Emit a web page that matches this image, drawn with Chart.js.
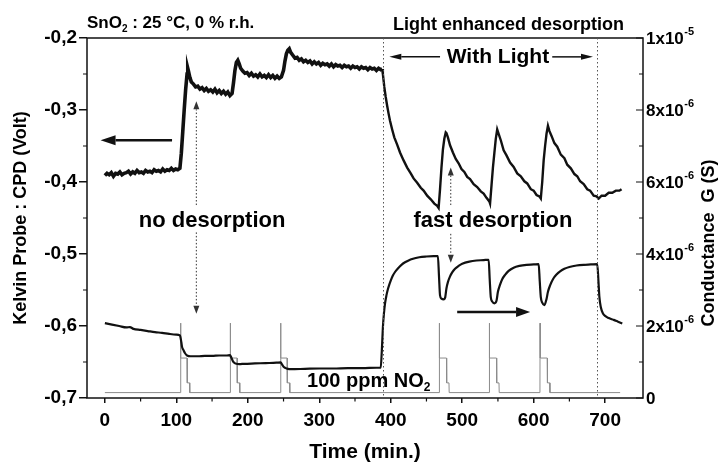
<!DOCTYPE html>
<html><head><meta charset="utf-8">
<script src="https://cdn.jsdelivr.net/npm/chart.js@4.4.1/dist/chart.umd.min.js"></script>
<style>html,body{margin:0;padding:0;background:#fff;}canvas{display:block;}</style>
</head><body>
<canvas id="c" width="720" height="465"></canvas>
<script>
const FONT = '"Liberation Sans", Arial, Helvetica, sans-serif';

// ---- axis ticks ----
const timeTicks = [0, 100, 200, 300, 400, 500, 600, 700];
const timeMinorTicks = [50, 150, 250, 350, 450, 550, 650];
const cpdTicks = [-0.7, -0.6, -0.5, -0.4, -0.3, -0.2];
const cpdTickLabels = ['-0,7', '-0,6', '-0,5', '-0,4', '-0,3', '-0,2'];
const cpdMinorTicks = [-0.65, -0.55, -0.45, -0.35, -0.25];
const condTicks = [0, 2e-6, 4e-6, 6e-6, 8e-6, 1e-5];
const condTickMantissa = ['0', '2x10', '4x10', '6x10', '8x10', '1x10'];
const condTickExponent = ['', '-6', '-6', '-6', '-6', '-5'];
const condMinorTicks = [1e-6, 3e-6, 5e-6, 7e-6, 9e-6];

// ---- Kelvin probe CPD (V), left axis ----
const cpdTime = [
  0,3,6,9,12,15,18,21,24,27,30,33,36,39,42,45,48,51,54,57,60,63,66,69,72,75,78,81,84,87,90,93,96,99,102,105,
  107,109,111,113,115,116,117,119,121,
  124,127,130,133,136,139,142,145,148,151,154,157,160,163,166,169,172,175,178,
  180,182,184,186,188,190,193,
  196,199,202,205,208,211,214,217,220,223,226,229,232,235,238,241,244,247,
  250,252,254,256,258,260,263,266,
  269,272,275,278,281,284,287,290,293,296,299,302,305,308,311,314,317,320,323,326,329,332,335,338,341,344,347,350,353,356,359,362,365,368,371,374,377,380,383,386,388,
  389,391,393,395,397,399,402,405,409,413,418,423,428,432,437,442,446,451,456,461,465,467,
  469,471,473,475,477,478,480,483,487,491,495,499,503,507,511,516,521,526,530,534,538,539,
  541,543,545,547,549,551,554,558,562,567,572,577,582,587,591,596,600,604,608,610,
  612,614,616,618,620,622,625,629,633,638,643,647,652,657,661,665,670,675,679,684,688,691,695,700,705,710,715,720,723
];
const cpdValue = [
  -0.391,-0.388,-0.390,-0.387,-0.392,-0.388,-0.389,-0.386,-0.390,-0.388,-0.387,-0.385,-0.389,-0.386,-0.388,-0.384,-0.387,-0.386,-0.388,-0.384,-0.386,-0.385,-0.387,-0.383,-0.385,-0.384,-0.386,-0.382,-0.385,-0.383,-0.384,-0.381,-0.384,-0.382,-0.383,-0.381,
  -0.360,-0.330,-0.300,-0.272,-0.250,-0.242,-0.246,-0.255,-0.261,
  -0.264,-0.268,-0.267,-0.271,-0.269,-0.273,-0.270,-0.274,-0.272,-0.275,-0.271,-0.276,-0.273,-0.277,-0.274,-0.278,-0.275,-0.280,-0.277,
  -0.262,-0.245,-0.234,-0.231,-0.236,-0.242,-0.246,
  -0.249,-0.248,-0.252,-0.249,-0.253,-0.251,-0.254,-0.250,-0.254,-0.252,-0.255,-0.251,-0.255,-0.252,-0.256,-0.253,-0.256,-0.254,
  -0.245,-0.232,-0.222,-0.217,-0.215,-0.220,-0.224,-0.228,
  -0.227,-0.231,-0.229,-0.233,-0.231,-0.234,-0.232,-0.236,-0.233,-0.236,-0.234,-0.238,-0.235,-0.237,-0.236,-0.239,-0.236,-0.240,-0.237,-0.239,-0.238,-0.241,-0.238,-0.240,-0.239,-0.242,-0.239,-0.241,-0.240,-0.243,-0.240,-0.242,-0.241,-0.244,-0.241,-0.243,-0.242,-0.245,-0.242,-0.244,-0.243,
  -0.250,-0.268,-0.282,-0.294,-0.305,-0.315,-0.327,-0.338,-0.348,-0.359,-0.370,-0.380,-0.388,-0.395,-0.401,-0.408,-0.412,-0.419,-0.424,-0.430,-0.433,-0.436,
  -0.410,-0.380,-0.355,-0.340,-0.331,-0.332,-0.338,-0.349,-0.359,-0.368,-0.374,-0.382,-0.386,-0.393,-0.396,-0.403,-0.407,-0.413,-0.416,-0.422,-0.427,-0.430,
  -0.405,-0.380,-0.360,-0.340,-0.327,-0.333,-0.342,-0.356,-0.363,-0.373,-0.379,-0.388,-0.392,-0.399,-0.402,-0.410,-0.412,-0.418,-0.420,-0.423,
  -0.400,-0.370,-0.350,-0.333,-0.322,-0.329,-0.336,-0.346,-0.351,-0.362,-0.367,-0.376,-0.381,-0.389,-0.392,-0.399,-0.403,-0.410,-0.412,-0.419,-0.420,-0.423,-0.419,-0.419,-0.415,-0.415,-0.412,-0.412,-0.410
];

// ---- Conductance G (S), right axis ----
const condTime = [
  0,10,20,30,35,40,50,60,70,80,90,100,105,107,108,110,112,115,120,130,140,150,160,170,175,
  177,179,181,184,188,195,210,225,240,246,248,250,253,256,260,280,300,320,340,360,380,386,
  387.5,389,390.5,392,394,396,398,400,403,406,410,415,420,425,430,440,450,460,466,
  467.5,469,471,474,476,478,480,483,486,490,495,500,510,520,530,537,
  538.5,540,542,545,548,550,553,556,560,565,572,580,590,600,607,
  608.5,610,612,615,618,620,623,627,632,637,643,650,660,670,680,689,
  690.5,692,694,697,700,705,712,718,724
];
const condValue = [
  2.08e-6,2.04e-6,2.00e-6,1.96e-6,1.97e-6,1.92e-6,1.89e-6,1.86e-6,1.83e-6,1.81e-6,1.78e-6,1.76e-6,1.74e-6,1.55e-6,1.42e-6,1.33e-6,1.25e-6,1.18e-6,1.16e-6,1.16e-6,1.17e-6,1.17e-6,1.18e-6,1.18e-6,1.19e-6,
  1.12e-6,1.03e-6,0.98e-6,0.95e-6,0.94e-6,0.95e-6,0.96e-6,0.97e-6,0.98e-6,0.99e-6,0.93e-6,0.87e-6,0.83e-6,0.81e-6,0.80e-6,0.81e-6,0.82e-6,0.82e-6,0.83e-6,0.83e-6,0.84e-6,0.84e-6,
  1.30e-6,1.95e-6,2.35e-6,2.62e-6,2.85e-6,3.02e-6,3.15e-6,3.26e-6,3.40e-6,3.50e-6,3.60e-6,3.70e-6,3.77e-6,3.82e-6,3.86e-6,3.91e-6,3.93e-6,3.94e-6,3.94e-6,
  3.40e-6,2.85e-6,2.76e-6,2.74e-6,2.78e-6,3.05e-6,3.22e-6,3.38e-6,3.49e-6,3.59e-6,3.67e-6,3.73e-6,3.79e-6,3.82e-6,3.83e-6,3.84e-6,
  3.30e-6,2.80e-6,2.68e-6,2.63e-6,2.70e-6,2.95e-6,3.15e-6,3.30e-6,3.42e-6,3.53e-6,3.62e-6,3.67e-6,3.70e-6,3.71e-6,3.72e-6,
  3.25e-6,2.80e-6,2.65e-6,2.58e-6,2.75e-6,2.95e-6,3.13e-6,3.30e-6,3.43e-6,3.52e-6,3.59e-6,3.64e-6,3.68e-6,3.70e-6,3.71e-6,3.72e-6,
  3.30e-6,2.80e-6,2.52e-6,2.35e-6,2.28e-6,2.22e-6,2.17e-6,2.12e-6,2.07e-6
];

// ---- 100 ppm NO2 gas pulses (drawn on right-axis scale) ----
const no2Time = [
  0,105.8,106,106.3,115,115.3,118.5,118.8,
  175.3,175.5,175.8,185,185.3,188.5,188.8,
  245.8,246,246.3,255,255.3,258.5,258.8,
  467.8,468,468.3,478,478.3,481.5,481.8,
  537.8,538,538.3,548,548.3,551.5,551.8,
  608.8,609,609.3,619,619.3,622.5,622.8,721
];
const no2Value = [
  0.15e-6,0.15e-6,2.08e-6,1.11e-6,1.11e-6,0.42e-6,0.42e-6,0.15e-6,
  0.15e-6,2.08e-6,1.11e-6,1.11e-6,0.42e-6,0.42e-6,0.15e-6,
  0.15e-6,2.08e-6,1.11e-6,1.11e-6,0.42e-6,0.42e-6,0.15e-6,
  0.15e-6,2.08e-6,1.11e-6,1.11e-6,0.42e-6,0.42e-6,0.15e-6,
  0.15e-6,2.08e-6,1.11e-6,1.11e-6,0.42e-6,0.42e-6,0.15e-6,
  0.15e-6,2.08e-6,1.11e-6,1.11e-6,0.42e-6,0.42e-6,0.15e-6,0.15e-6
];

// light on / off (min)
const lightPeriod = [389, 689];

const pts = (t, v) => t.map((x, i) => ({x: x, y: v[i]}));
const fnt = (size, weight) => `${weight || 'bold'} ${size}px ${FONT}`;

function arrow(ctx, x1, y1, x2, y2, o) {
  const ang = Math.atan2(y2 - y1, x2 - x1);
  const bx = x2 - o.head * Math.cos(ang), by = y2 - o.head * Math.sin(ang);
  ctx.save();
  ctx.strokeStyle = o.color; ctx.fillStyle = o.color; ctx.lineWidth = o.width;
  ctx.setLineDash(o.dash || []);
  ctx.beginPath(); ctx.moveTo(x1, y1); ctx.lineTo(bx, by); ctx.stroke();
  ctx.setLineDash([]);
  ctx.beginPath(); ctx.moveTo(x2, y2);
  ctx.lineTo(bx + o.half * Math.sin(ang), by - o.half * Math.cos(ang));
  ctx.lineTo(bx - o.half * Math.sin(ang), by + o.half * Math.cos(ang));
  ctx.closePath(); ctx.fill();
  ctx.restore();
}

// text with a subscript part: parts = [[text, isSub], ...]
function richText(ctx, parts, x, y, size) {
  let cx = x;
  parts.forEach(p => {
    const s = p[1] ? Math.round(size * 0.6) : size;
    ctx.font = fnt(s);
    ctx.fillText(p[0], cx, p[1] ? y + size * 0.22 : y);
    cx += ctx.measureText(p[0]).width;
  });
}

const deco = {
  id: 'deco',
  afterDraw(chart) {
    const {ctx, chartArea: a, scales} = chart;
    const X = v => scales.x.getPixelForValue(v);
    const Y = v => scales.y.getPixelForValue(v);
    const Y1 = v => scales.y1.getPixelForValue(v);
    ctx.save();
    // frame
    ctx.strokeStyle = '#111'; ctx.lineWidth = 1.5;
    ctx.strokeRect(a.left, a.top, a.right - a.left, a.bottom - a.top);
    // minor ticks + right (inward) ticks
    ctx.lineWidth = 1.2; ctx.beginPath();
    timeMinorTicks.forEach(t => { const p = X(t); ctx.moveTo(p, a.bottom); ctx.lineTo(p, a.bottom + 3.5); });
    cpdMinorTicks.forEach(v => { const p = Y(v); ctx.moveTo(a.left, p); ctx.lineTo(a.left - 4, p); });
    condMinorTicks.forEach(v => { const p = Y1(v); ctx.moveTo(a.right, p); ctx.lineTo(a.right - 4, p); });
    condTicks.forEach(v => { const p = Y1(v); ctx.moveTo(a.right, p); ctx.lineTo(a.right - 7, p); });
    ctx.stroke();
    // right tick labels with exponents
    ctx.fillStyle = '#000'; ctx.textBaseline = 'middle'; ctx.textAlign = 'left';
    condTicks.forEach((v, i) => {
      const p = Y1(v);
      ctx.font = fnt(17);
      ctx.fillText(condTickMantissa[i], a.right + 3, p + 1);
      const w = ctx.measureText(condTickMantissa[i]).width;
      if (condTickExponent[i]) { ctx.font = fnt(11); ctx.fillText(condTickExponent[i], a.right + 3 + w + 0.5, p - 6); }
    });
    // right axis title (reads bottom to top)
    ctx.save();
    ctx.translate(709, 243); ctx.rotate(-Math.PI / 2);
    ctx.textAlign = 'center'; ctx.textBaseline = 'middle'; ctx.font = fnt(18);
    ctx.fillText('Conductance  G (S)', 0, 0);
    ctx.restore();
    // light on/off dotted verticals
    ctx.save();
    ctx.strokeStyle = '#555'; ctx.lineWidth = 1; ctx.setLineDash([1.5, 2.5]);
    ctx.beginPath();
    lightPeriod.forEach(t => { const p = Math.round(X(t)) + 0.5; ctx.moveTo(p, a.top); ctx.lineTo(p, a.bottom); });
    ctx.stroke();
    ctx.restore();
    // solid axis-pointer arrows
    arrow(ctx, X(94), Y(-0.342), X(-6), Y(-0.342), {width: 2.5, head: 15, half: 5, color: '#111'});
    arrow(ctx, X(493), Y(-0.5805), X(595), Y(-0.5805), {width: 2.5, head: 14, half: 5, color: '#111'});
    // "With Light" arrows
    arrow(ctx, X(469), Y(-0.2262), X(398), Y(-0.2262), {width: 1.5, head: 12, half: 3, color: '#111'});
    arrow(ctx, X(626), Y(-0.2262), X(683), Y(-0.2262), {width: 1.5, head: 12, half: 3, color: '#111'});
    // dotted pointer arrows
    const dd = {width: 1, head: 8, half: 3, color: '#333', dash: [1.5, 2]};
    arrow(ctx, X(128), Y(-0.432), X(128), Y(-0.288), dd);
    arrow(ctx, X(128), Y(-0.47), X(128), Y(-0.583), dd);
    arrow(ctx, X(484), Y(-0.432), X(484), Y(-0.380), dd);
    arrow(ctx, X(484), Y(-0.472), X(484), Y(-0.512), dd);
    // texts
    ctx.fillStyle = '#000'; ctx.textBaseline = 'alphabetic';
    ctx.textAlign = 'center'; ctx.font = fnt(22);
    ctx.fillText('no desorption', X(150), Y(-0.4625));
    ctx.fillText('fast desorption', X(543), Y(-0.4625));
    ctx.font = fnt(21);
    ctx.fillText('With Light', X(550), Y(-0.2347));
    ctx.textAlign = 'left';
    richText(ctx, [['100 ppm NO', false], ['2', true]], X(283), Y(-0.6847), 20);
    richText(ctx, [['SnO', false], ['2', true], [' : 25 \u00B0C, 0 % r.h.', false]], 87, 28, 17);
    ctx.font = fnt(18);
    ctx.fillText('Light enhanced desorption', 393, 30);
    ctx.restore();
  }
};

new Chart(document.getElementById('c').getContext('2d'), {
  type: 'line',
  data: {
    datasets: [
      {label: 'CPD', data: pts(cpdTime, cpdValue), yAxisID: 'y', borderColor: '#111', borderWidth: 2.4, pointRadius: 0, tension: 0,
        segment: {borderWidth: c => (c.p0.parsed.x < 387 ? 3.6 : 2.4)}},
      {label: 'Conductance', data: pts(condTime, condValue), yAxisID: 'y1', borderColor: '#111', borderWidth: 2.2, pointRadius: 0, cubicInterpolationMode: 'monotone'},
      {label: '100 ppm NO2', data: pts(no2Time, no2Value), yAxisID: 'y1', borderColor: '#8c8c8c', borderWidth: 1, pointRadius: 0, tension: 0}
    ]
  },
  options: {
    responsive: false, animation: false, devicePixelRatio: 1,
    layout: {padding: {top: 38, left: 0, right: 0, bottom: 0}},
    plugins: {legend: {display: false}, tooltip: {enabled: false}},
    scales: {
      x: {
        type: 'linear', min: -25, max: 753,
        afterBuildTicks: s => { s.ticks = timeTicks.map(v => ({value: v})); },
        afterFit: s => { s.height = 67; },
        grid: {drawOnChartArea: false, tickLength: 5, color: '#111', lineWidth: 1.5},
        border: {display: false},
        ticks: {color: '#000', font: {family: FONT, size: 19, weight: 'bold'}, padding: 6, maxRotation: 0, autoSkip: false},
        title: {display: true, text: 'Time (min.)', color: '#000', font: {family: FONT, size: 21, weight: 'bold'}, padding: {top: 0, bottom: 0}}
      },
      y: {
        position: 'left', min: -0.7, max: -0.2,
        afterBuildTicks: s => { s.ticks = cpdTicks.map(v => ({value: v})); },
        afterFit: s => { s.width = 87; },
        grid: {drawOnChartArea: false, tickLength: 8, color: '#111', lineWidth: 1.5},
        border: {display: false},
        ticks: {color: '#000', font: {family: FONT, size: 19, weight: 'bold'}, padding: 2,
          callback: v => cpdTickLabels[cpdTicks.findIndex(t => Math.abs(t - v) < 1e-9)]},
        title: {display: true, text: 'Kelvin Probe : CPD (Volt)', color: '#000', font: {family: FONT, size: 18, weight: 'bold'}, padding: {top: 10, bottom: 0}}
      },
      y1: {
        position: 'right', min: 0, max: 1e-5,
        afterBuildTicks: s => { s.ticks = condTicks.map(v => ({value: v})); },
        afterFit: s => { s.width = 77; },
        grid: {display: false},
        border: {display: false},
        ticks: {display: false}
      }
    }
  },
  plugins: [deco]
});
</script>
</body></html>
